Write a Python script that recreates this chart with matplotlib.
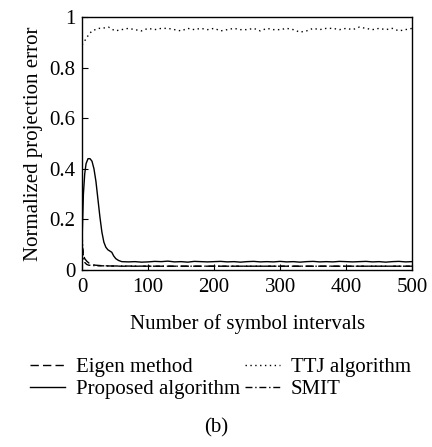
import numpy as np
import matplotlib
matplotlib.use('Agg')
import matplotlib.pyplot as plt

plt.rcParams['font.family'] = ['Liberation Serif', 'DejaVu Serif']

# Eigen method (dashed)
eigen_x = [0, 2, 4, 7, 10, 15, 20, 30, 40, 60, 100, 200, 300, 400, 500]
eigen_y = [0.10, 0.06, 0.045, 0.035, 0.028, 0.022, 0.019, 0.017, 0.016, 0.015, 0.015, 0.015, 0.015, 0.015, 0.015]

# SMIT (dash-dot)
smit_x = [0, 1, 2, 4, 7, 10, 20, 40, 100, 200, 300, 400, 500]
smit_y = [0.14, 0.09, 0.05, 0.03, 0.022, 0.019, 0.017, 0.016, 0.015, 0.015, 0.015, 0.015, 0.015]

# Proposed algorithm (solid)
prop_x = [0, 2, 4, 6, 9, 12, 15, 18, 21, 24, 27, 30, 33, 36, 39, 42, 45, 48, 51, 55, 60,
          70, 80, 90, 100, 110, 120, 130, 140, 150, 160, 170, 180, 190, 200,
          210, 220, 230, 240, 250, 260, 270, 280, 290, 300,
          310, 320, 330, 340, 350, 360, 370, 380, 390, 400,
          410, 420, 430, 440, 450, 460, 470, 480, 490, 500]
prop_y = [0.12, 0.30, 0.38, 0.42, 0.44, 0.44, 0.43, 0.40, 0.35, 0.28, 0.21, 0.15, 0.11, 0.09, 0.08, 0.075, 0.07, 0.055, 0.045, 0.038, 0.033,
          0.032, 0.033, 0.031, 0.032, 0.034, 0.033, 0.035, 0.032, 0.033, 0.031, 0.034, 0.033, 0.032, 0.033,
          0.034, 0.032, 0.033, 0.031, 0.033, 0.034, 0.032, 0.033, 0.032, 0.034,
          0.032, 0.033, 0.031, 0.033, 0.034, 0.032, 0.033, 0.032, 0.034, 0.033,
          0.032, 0.033, 0.034, 0.032, 0.033, 0.031, 0.033, 0.034, 0.032, 0.033]

# TTJ algorithm (dotted)
ttj_x = [0, 5, 10, 15, 20, 25, 30, 40, 50, 60, 70, 80, 90, 100,
         110, 120, 130, 140, 150, 160, 170, 180, 190, 200,
         210, 220, 230, 240, 250, 260, 270, 280, 290, 300,
         310, 320, 330, 340, 350, 360, 370, 380, 390, 400,
         410, 420, 430, 440, 450, 460, 470, 480, 490, 500]
ttj_y = [0.89, 0.91, 0.93, 0.945, 0.95, 0.955, 0.955, 0.96, 0.945, 0.95, 0.955, 0.95, 0.945, 0.955,
         0.95, 0.955, 0.955, 0.95, 0.945, 0.955, 0.95, 0.955, 0.95, 0.955,
         0.945, 0.95, 0.955, 0.95, 0.95, 0.955, 0.945, 0.955, 0.95, 0.95,
         0.955, 0.95, 0.94, 0.945, 0.955, 0.95, 0.955, 0.955, 0.95, 0.955,
         0.95, 0.96, 0.955, 0.95, 0.955, 0.95, 0.955, 0.945, 0.95, 0.955]

fig = plt.figure(figsize=(4.32, 4.47), dpi=100)
ax = fig.add_axes([0.19, 0.396, 0.764, 0.566])

ax.plot(eigen_x, eigen_y, color='black', lw=1.0, linestyle=(0, (6, 3)), label='Eigen method')
ax.plot(prop_x, prop_y, color='black', lw=1.0, linestyle='-', label='Proposed algorithm')
ax.plot(ttj_x, ttj_y, color='black', lw=1.0, linestyle=(0, (1, 2.5)), label='TTJ algorithm')
ax.plot(smit_x, smit_y, color='black', lw=1.0, linestyle=(0, (5, 2, 1, 2)), label='SMIT')

ax.set_xlim(0, 500)
ax.set_ylim(0, 1)
ax.set_xticks([0, 100, 200, 300, 400, 500])
ax.set_yticks([0, 0.2, 0.4, 0.6, 0.8, 1])
ax.set_yticklabels(['0', '0.2', '0.4', '0.6', '0.8', '1'])
ax.tick_params(direction='in', length=4, labelsize=15, pad=5, top=False, right=False)
ax.tick_params(axis='x', pad=6)
for s in ax.spines.values():
    s.set_linewidth(1.0)

ax.set_xlabel('Number of symbol intervals', fontsize=15, labelpad=12)
ax.set_ylabel('Normalized projection error', fontsize=15, labelpad=4)

fig.legend(loc='upper center', bbox_to_anchor=(0.51, 0.242), ncol=2, frameon=False,
           fontsize=15, handlelength=1.7, columnspacing=0.25, handletextpad=0.5,
           labelspacing=0.12)

fig.text(0.5, 0.0425, '(b)', ha='center', va='center', fontsize=15)

fig.savefig('out.png', dpi=100)
